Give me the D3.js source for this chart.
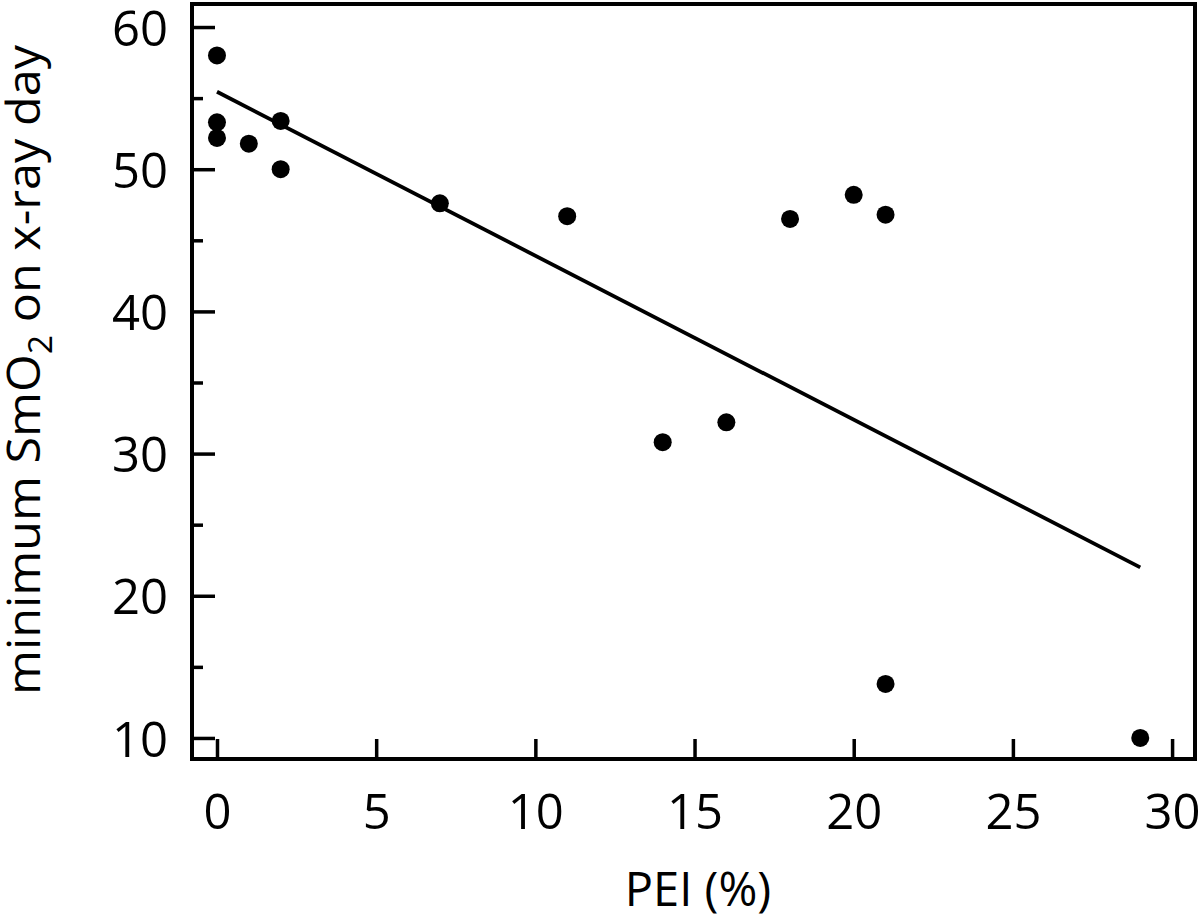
<!DOCTYPE html>
<html>
<head>
<meta charset="utf-8">
<script src="https://cdn.jsdelivr.net/npm/d3@7"></script>
<style>
    body { margin: 0; background: #fff; }
    text { font-family: 'Open Sans', sans-serif; fill: #000; }
</style>
</head>
<body>
<svg class="chart"></svg>
<script>
// Data
var pei = [0, 0, 0, 1, 2, 2, 7, 11, 14, 16, 18, 20, 21, 21, 29];
var smo2 = [58, 53.3, 52.2, 51.8, 53.4, 50, 47.6, 46.7, 30.8, 32.2, 46.5, 48.2, 46.8, 13.8, 10];
// regression line end points
var fitX = [0, 29];
var fitY = [55.45, 22.0];
var xTicks = [0, 5, 10, 15, 20, 25, 30];
var yTicks = [10, 20, 30, 40, 50, 60];
var yMinorTicks = [15, 25, 35, 45, 55];

// Margins
var margin = { top: 4, right: 5, bottom: 164, left: 192 },
    width = 1200 - margin.left - margin.right,
    height = 923 - margin.top - margin.bottom;

var svg = d3.select('.chart')
    .attr('width', 1200)
    .attr('height', 923);

var chart = svg.append('g')
    .attr('transform', 'translate(' + margin.left + ',' + margin.top + ')');

var x = d3.scaleLinear().domain([-0.785, 30.72]).range([0, width]);
var y = d3.scaleLinear().domain([8.52, 61.62]).range([height, 0]);

// axes, ticks pointing inwards
var xAxis = d3.axisBottom(x).tickValues(xTicks).tickSize(-20).tickPadding(35);
var yAxis = d3.axisLeft(y).tickValues(yTicks).tickSize(-23).tickPadding(24);
var yMinor = d3.axisLeft(y).tickValues(yMinorTicks).tickSize(-11).tickFormat('');

var gx = chart.append('g')
    .attr('class', 'x axis')
    .attr('transform', 'translate(0,' + height + ')')
    .call(xAxis);

var gy = chart.append('g').attr('class', 'y axis').call(yAxis);
var gm = chart.append('g').attr('class', 'y minor').call(yMinor);

[gx, gy, gm].forEach(function (g) {
    g.select('.domain').remove();
    g.selectAll('line').attr('stroke', '#000').attr('stroke-width', 3.5);
    g.selectAll('text').style('font-size', '49px').style('font-family', "'Open Sans', sans-serif");
});
gy.selectAll('text').attr('dy', '0.37em');

// frame
chart.append('rect')
    .attr('x', 0)
    .attr('y', 0)
    .attr('width', width)
    .attr('height', height)
    .attr('fill', 'none')
    .attr('stroke', '#000')
    .attr('stroke-width', 4);

// regression line
var fit = fitX.map(function (d, i) { return { x: d, y: fitY[i] }; });
var line = d3.line()
    .x(function (d) { return x(d.x); })
    .y(function (d) { return y(d.y); });

chart.append('path')
    .datum(fit)
    .attr('d', line)
    .attr('fill', 'none')
    .attr('stroke', '#000')
    .attr('stroke-width', 3.8);

// points
var points = pei.map(function (d, i) { return { x: d, y: smo2[i] }; });
chart.selectAll('.dot')
    .data(points)
    .enter()
    .append('circle')
    .attr('class', 'dot')
    .attr('cx', function (d) { return x(d.x); })
    .attr('cy', function (d) { return y(d.y); })
    .attr('r', 9)
    .attr('fill', '#000');

// x title
svg.append('text')
    .attr('x', 698)
    .attr('y', 906)
    .attr('text-anchor', 'middle')
    .style('font-size', '47px')
    .text('PEI (%)');

// y title
var yt = svg.append('text')
    .attr('transform', 'rotate(-90)')
    .attr('x', -370)
    .attr('y', 40)
    .attr('text-anchor', 'middle')
    .attr('textLength', 650)
    .attr('lengthAdjust', 'spacingAndGlyphs')
    .style('font-size', '46px');
yt.append('tspan').text('minimum SmO');
yt.append('tspan').attr('dy', 12).style('font-size', '32px').text('2');
yt.append('tspan').attr('dy', -12).text(' on x-ray day');
</script>
</body>
</html>
